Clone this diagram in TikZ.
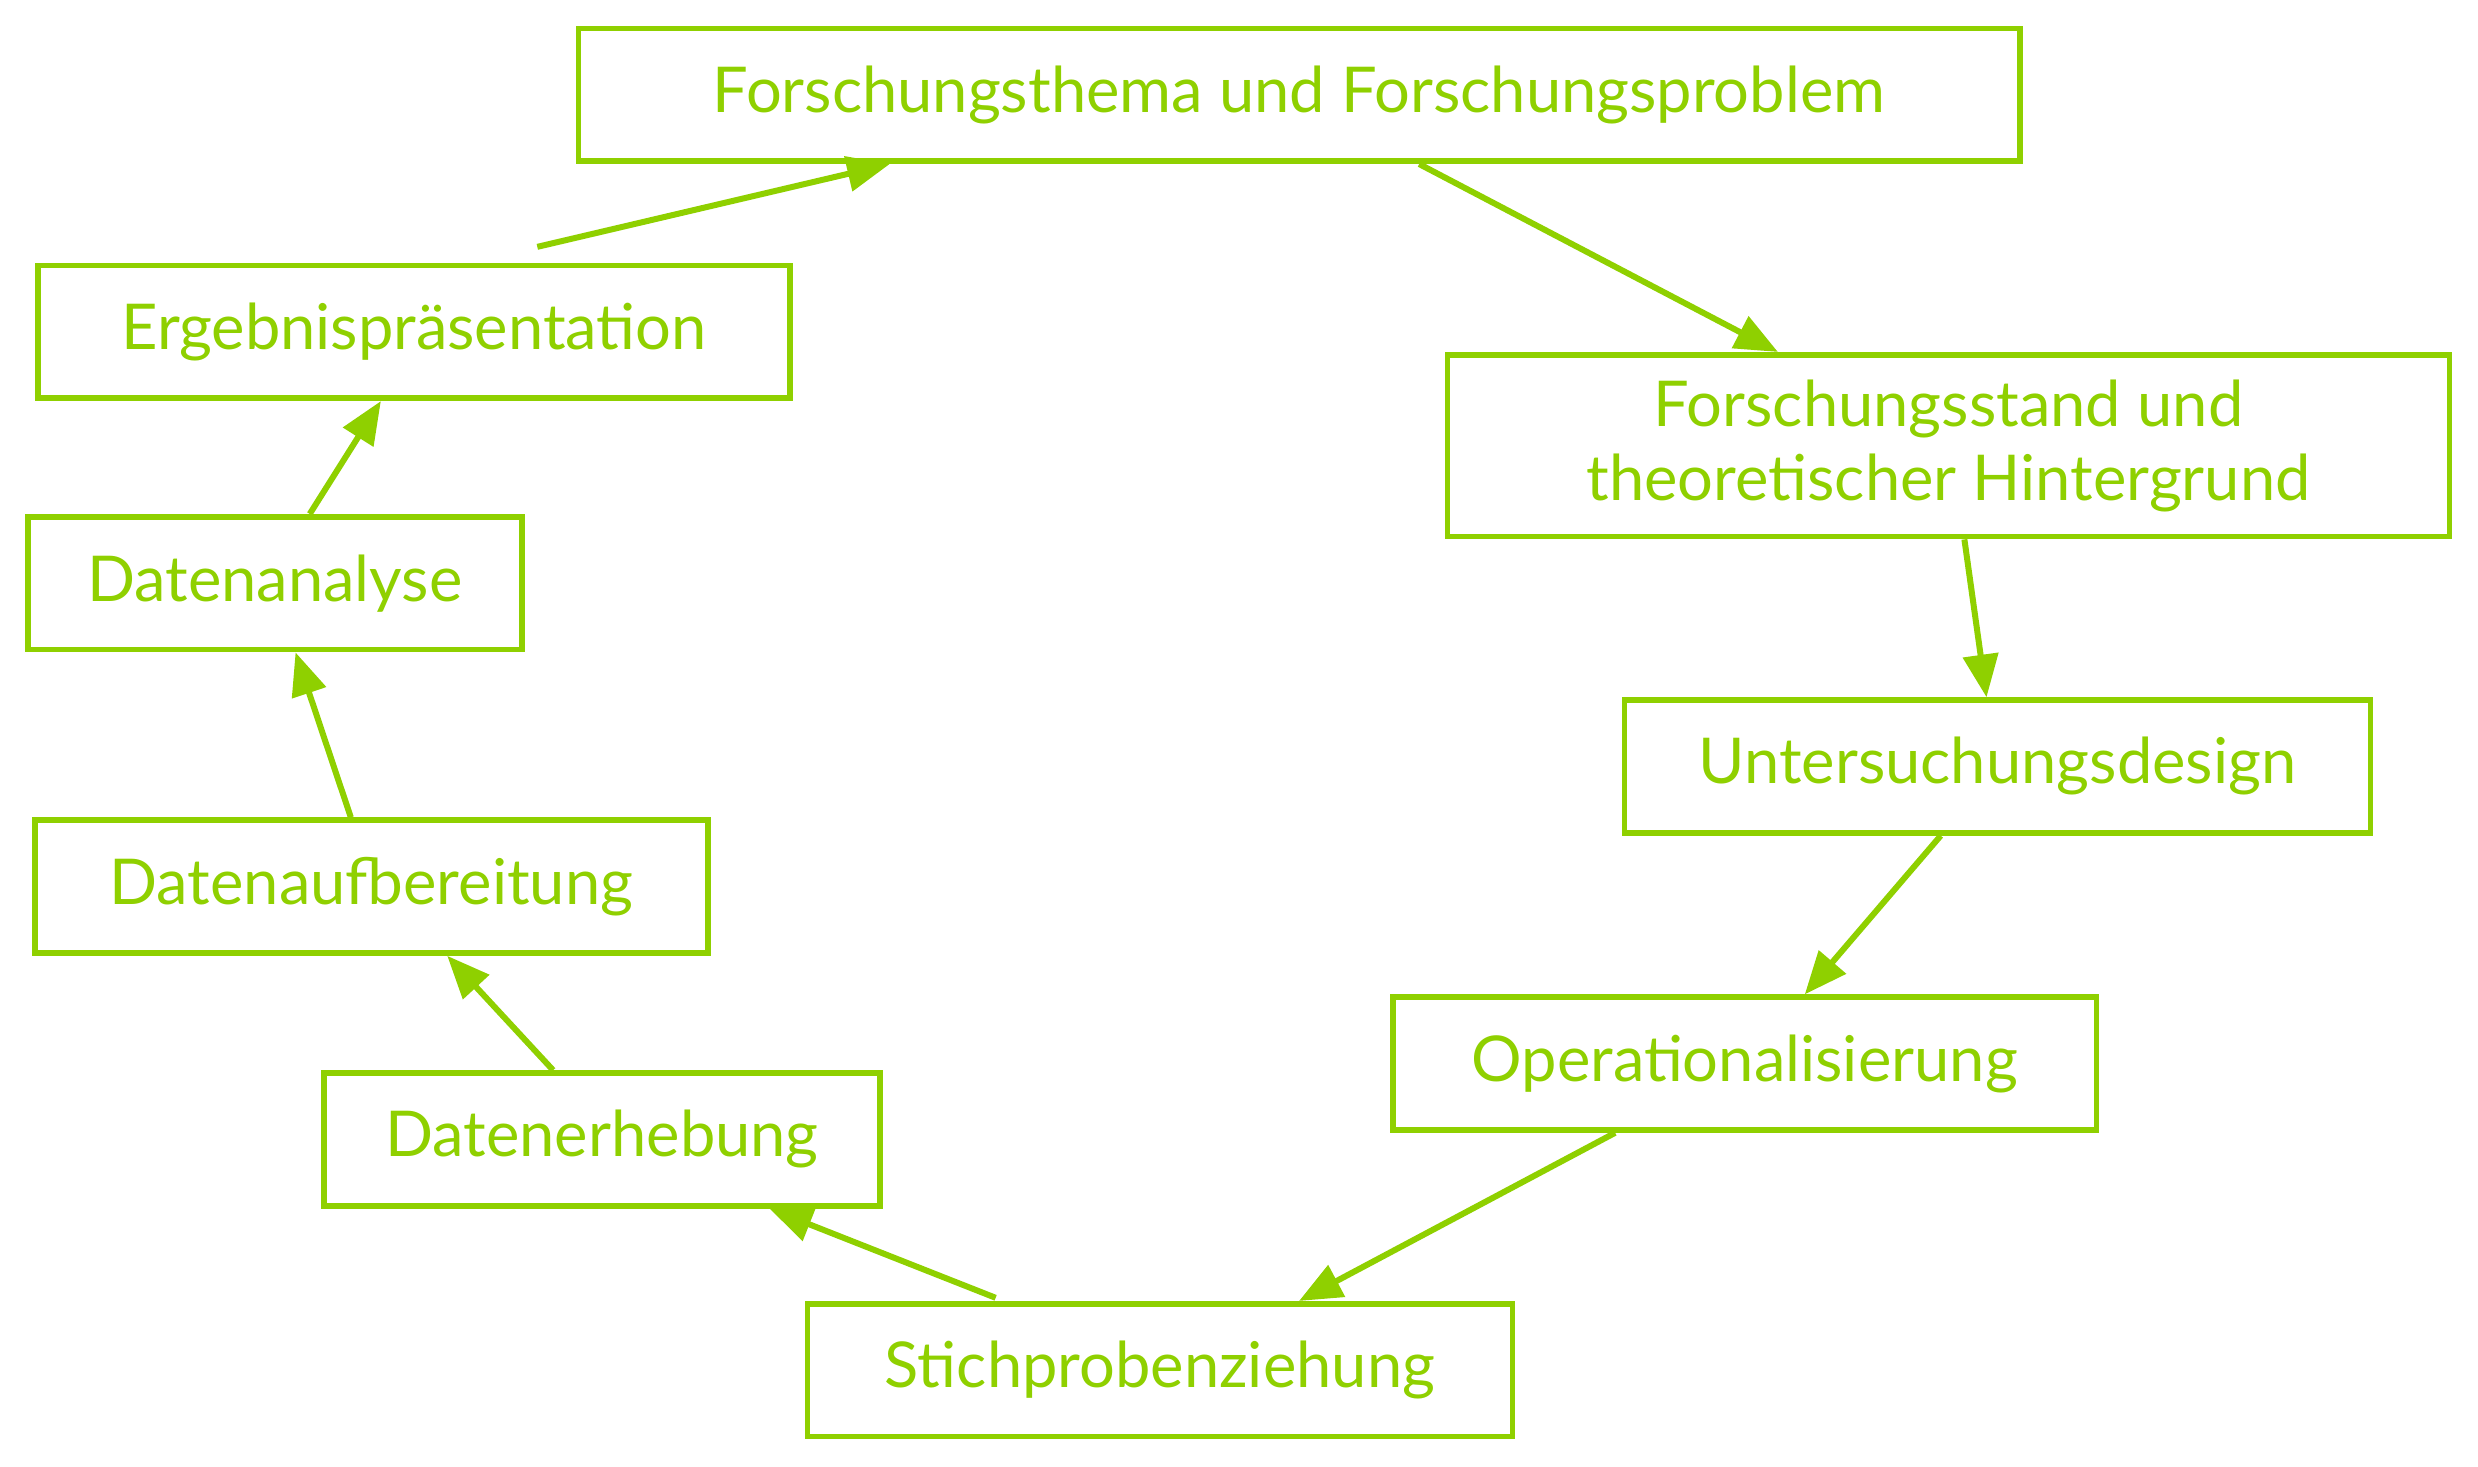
\documentclass[tikz,border=0pt]{standalone}
\usepackage{fontspec}
\setmainfont{Lato}
\usetikzlibrary{arrows.meta}
\definecolor{lime}{RGB}{143,208,0}
\begin{document}
\begin{tikzpicture}[x=1pt,y=1pt,
  phase/.style={draw=lime,line width=3.6pt,text=lime,inner sep=0pt,align=center,
    minimum height=84pt,font=\fontsize{40}{47}\selectfont},
  flow/.style={draw=lime,line width=3.8pt,-{Triangle[length=27pt,width=22pt]}}]
% Page size of the reference
\useasboundingbox (0,0) rectangle (1568,-928);
% Boxes of the research cycle
\node [phase,minimum width=912pt] (thema) at (822,-60) {Forschungsthema und Forschungsproblem};
\node [phase,minimum width=634pt,minimum height=115pt] (stand) at (1233,-282) {Forschungsstand und\\theoretischer Hintergrund};
\node [phase,minimum width=472pt] (design) at (1264,-485) {Untersuchungsdesign};
\node [phase,minimum width=445pt] (oper) at (1104,-673) {Operationalisierung};
\node [phase,minimum width=446pt] (stich) at (734,-867) {Stichprobenziehung};
\node [phase,minimum width=352pt] (erheb) at (381,-721) {Datenerhebung};
\node [phase,minimum width=426pt] (aufb) at (235,-561) {Datenaufbereitung};
\node [phase,minimum width=313pt] (analyse) at (174,-369) {Datenanalyse};
\node [phase,minimum width=476pt] (erg) at (262,-210) {Ergebnispräsentation};
% Arrows from one step to the next
\draw [flow] ([xshift=78pt,yshift=10pt]erg.north) -- ([xshift=-259pt]thema.south);
\draw [flow] ([xshift=76pt]thema.south) -- ([xshift=-108pt]stand.north);
\draw [flow] ([xshift=10pt]stand.south) -- ([xshift=-7pt]design.north);
\draw [flow] ([xshift=-36pt]design.south) -- ([xshift=38pt]oper.north);
\draw [flow] ([xshift=-82pt]oper.south) -- ([xshift=88pt]stich.north);
\draw [flow] ([xshift=-104pt,yshift=2pt]stich.north) -- ([xshift=106pt]erheb.south);
\draw [flow] ([xshift=-31pt]erheb.north) -- ([xshift=48pt]aufb.south);
\draw [flow] ([xshift=-13pt]aufb.north) -- ([xshift=13pt]analyse.south);
\draw [flow] ([xshift=22pt]analyse.north) -- ([xshift=-21pt]erg.south);
\end{tikzpicture}
\end{document}
